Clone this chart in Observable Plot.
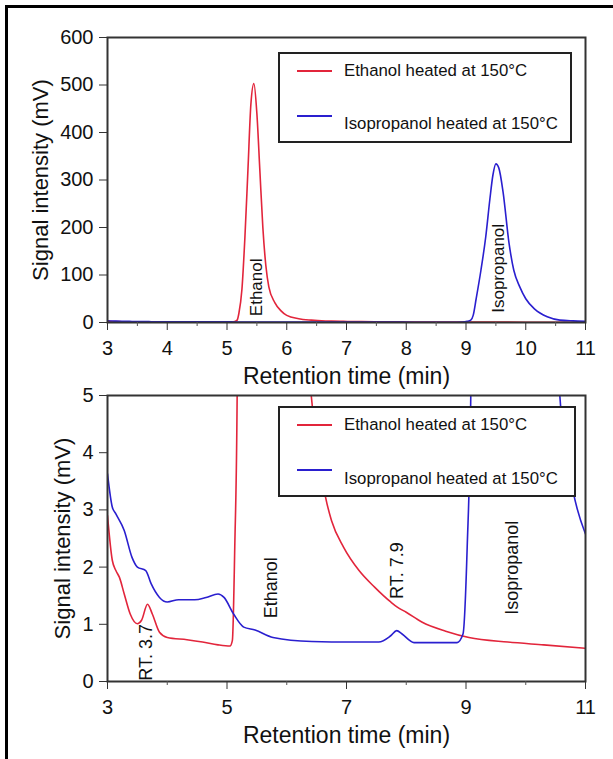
<!DOCTYPE html>
<html>
<head>
<meta charset="utf-8">
<script src="https://cdn.jsdelivr.net/npm/d3@7"></script>
<script src="https://cdn.jsdelivr.net/npm/@observablehq/plot@0.6"></script>
<style>
  html, body { margin: 0; padding: 0; background: #fff; }
  #wrap { position: relative; width: 613px; height: 759px; overflow: hidden;
          font-family: "Liberation Sans", Arial, Helvetica, sans-serif; }
  #border { position: absolute; left: 5px; top: 5px; right: -10px; bottom: -10px;
            border-left: 3px solid #000; border-top: 3px solid #000; }
  .panel { position: absolute; left: 0; }
  .legend { position: absolute; background: #fff; border: 2px solid #222; box-sizing: border-box; }
  .legend .sw { position: absolute; height: 2px; width: 35px; }
  .legend .lab { position: absolute; font-size: 16.8px; color: #111; white-space: nowrap; line-height: 1; }
</style>
</head>
<body>
<div id="wrap">
  <div id="border"></div>
  <div id="top" class="panel" style="top:0px"></div>
  <div id="bottom" class="panel" style="top:380px"></div>
</div>
<script>
// ---------- data ----------
const seriesNames = ["Ethanol heated at 150°C", "Isopropanol heated at 150°C"];

const ethanolTime = [3.0, 3.08, 3.14, 3.2, 3.28, 3.38, 3.5, 3.57, 3.67, 3.75, 3.87, 4.0, 4.33, 4.59, 4.85, 5.05, 5.09, 5.13, 5.17,
  5.2, 5.25, 5.3, 5.35, 5.4, 5.45, 5.5, 5.55, 5.6, 5.65, 5.7, 5.8, 5.9, 6.0, 6.2, 6.41,
  6.65, 6.75, 6.95, 7.21, 7.47, 7.74, 7.85, 8.0, 8.26, 8.66, 9.05, 9.7, 10.3, 11.0];
const ethanolSignal = [2.9, 2.12, 1.94, 1.82, 1.53, 1.18, 1.01, 1.07, 1.35, 1.18, 0.86, 0.77, 0.73, 0.69, 0.64, 0.62, 0.72, 2.35, 5,
  20, 70, 180, 320, 460, 503, 440, 320, 200, 120, 75, 42, 25, 15, 8, 5,
  3.22, 2.81, 2.35, 1.94, 1.65, 1.39, 1.3, 1.21, 1.04, 0.88, 0.77, 0.69, 0.64, 0.58];

const isoTime = [3.0, 3.08, 3.14, 3.28, 3.41, 3.5, 3.64, 3.73, 3.87, 4.0, 4.19, 4.46, 4.65, 4.85, 4.95, 5.11, 5.28, 5.47, 5.77,
  6.42, 7.08, 7.54, 7.74, 7.84, 7.93, 8.13, 8.85, 8.95, 9.02, 9.08,
  9.12, 9.17, 9.25, 9.33, 9.4, 9.45, 9.5, 9.55, 9.62, 9.72, 9.8, 9.9, 10.0, 10.15, 10.36, 10.57, 10.79, 11.0];
const isoSignal = [3.63, 3.05, 2.93, 2.64, 2.17, 2.0, 1.94, 1.71, 1.47, 1.39, 1.43, 1.43, 1.47, 1.53, 1.47, 1.18, 0.95, 0.90, 0.77,
  0.70, 0.69, 0.69, 0.80, 0.89, 0.83, 0.68, 0.68, 0.83, 2.35, 5,
  15, 50, 110, 180, 260, 310, 334, 325, 275, 167, 110, 75, 50, 28, 12, 5, 3.34, 2.58];

// annotations (data coordinates)
const topNotes = ["Ethanol", "Isopropanol"];
const topNoteX = [5.5, 9.55];
const topNoteY = [74, 114];
const botNotes = ["RT. 3.7", "Ethanol", "RT. 7.9", "Isopropanol"];
const botNoteX = [3.64, 5.74, 7.85, 9.78];
const botNoteY = [0.51, 1.64, 1.94, 1.99];

// ticks
const topXMajor = [3, 4, 5, 6, 7, 8, 9, 10, 11];
const topXMinor = [3.5, 4.5, 5.5, 6.5, 7.5, 8.5, 9.5, 10.5];
const topYMajor = [0, 100, 200, 300, 400, 500, 600];
const botXMajor = [3, 5, 7, 9, 11];
const botXMinor = [4, 6, 8, 10];
const botYMajor = [0, 1, 2, 3, 4, 5];

const xTitle = "Retention time (min)";
const yTitle = "Signal intensity (mV)";

// ---------- build ----------
const RED = "#e2253b", BLUE = "#2a1fcf";
const ethanol = ethanolTime.map((t, i) => ({t, v: ethanolSignal[i]}));
const iso = isoTime.map((t, i) => ({t, v: isoSignal[i]}));
const FONT = '"Liberation Sans", Arial, Helvetica, sans-serif';
const fmt = d => String(d);

function panel({height, mt, mb, yDomain, xMajor, xMinor, yMajor, notes, noteX, noteY, noteSize, yTitleOffset}) {
  const ann = notes.map((s, i) => ({s, x: noteX[i], y: noteY[i]}));
  return Plot.plot({
    width: 613, height,
    marginLeft: 107, marginRight: 28, marginTop: mt, marginBottom: mb,
    style: {fontFamily: FONT, color: "#111", background: "transparent", overflow: "visible"},
    x: {domain: [3, 11]},
    y: {domain: yDomain},
    marks: [
      Plot.line(ethanol, {x: "t", y: "v", stroke: RED, strokeWidth: 1.6, curve: "monotone-x", clip: true}),
      Plot.line(iso, {x: "t", y: "v", stroke: BLUE, strokeWidth: 1.6, curve: "monotone-x", clip: true}),
      Plot.text(ann, {x: "x", y: "y", text: "s", rotate: -90, fontSize: noteSize, fill: "#111", textAnchor: "middle", lineAnchor: "middle"}),
      Plot.frame({stroke: "#333", strokeWidth: 2}),
      Plot.axisX(xMajor, {tickSize: 8, tickPadding: 10, fontSize: 20, label: null, stroke: "#333", tickFormat: fmt}),
      Plot.axisX(xMinor, {tickSize: 4, tickFormat: () => "", label: null, stroke: "#555"}),
      Plot.axisY(yMajor, {tickSize: 8, tickPadding: 6, fontSize: 20, label: null, stroke: "#333", tickFormat: fmt}),
      Plot.text([xTitle], {frameAnchor: "bottom", dy: 54, fontSize: 23, fill: "#111", textAnchor: "middle", lineAnchor: "middle"}),
      Plot.text([yTitle], {frameAnchor: "left", dx: -yTitleOffset, rotate: -90, fontSize: 22, fill: "#111", textAnchor: "middle", lineAnchor: "middle"})
    ]
  });
}

function legend(parent, {left, top, width, height, rows}) {
  const lg = document.createElement("div");
  lg.className = "legend";
  Object.assign(lg.style, {left: left + "px", top: top + "px", width: width + "px", height: height + "px"});
  rows.forEach(r => {
    const sw = document.createElement("div");
    sw.className = "sw";
    Object.assign(sw.style, {left: "17px", top: (r.line - 1) + "px", background: r.color});
    lg.appendChild(sw);
    const lab = document.createElement("div");
    lab.className = "lab";
    lab.textContent = r.text;
    Object.assign(lab.style, {left: "64px", top: (r.textC - 8) + "px"});
    lg.appendChild(lab);
  });
  parent.appendChild(lg);
}

const topEl = document.getElementById("top");
topEl.appendChild(panel({height: 380, mt: 37, mb: 58, yDomain: [0, 600],
  xMajor: topXMajor, xMinor: topXMinor, yMajor: topYMajor,
  notes: topNotes, noteX: topNoteX, noteY: topNoteY, noteSize: 17, yTitleOffset: 67}));
legend(topEl, {left: 278, top: 52, width: 294, height: 91, rows: [
  {text: seriesNames[0], color: RED, line: 17, textC: 17},
  {text: seriesNames[1], color: BLUE, line: 62, textC: 70}
]});

const botEl = document.getElementById("bottom");
botEl.appendChild(panel({height: 379, mt: 15, mb: 78, yDomain: [0, 5],
  xMajor: botXMajor, xMinor: botXMinor, yMajor: botYMajor,
  notes: botNotes, noteX: botNoteX, noteY: botNoteY, noteSize: 18, yTitleOffset: 45}));
legend(botEl, {left: 278, top: 26, width: 298, height: 91, rows: [
  {text: seriesNames[0], color: RED, line: 17, textC: 17},
  {text: seriesNames[1], color: BLUE, line: 62, textC: 71}
]});
</script>
</body>
</html>
